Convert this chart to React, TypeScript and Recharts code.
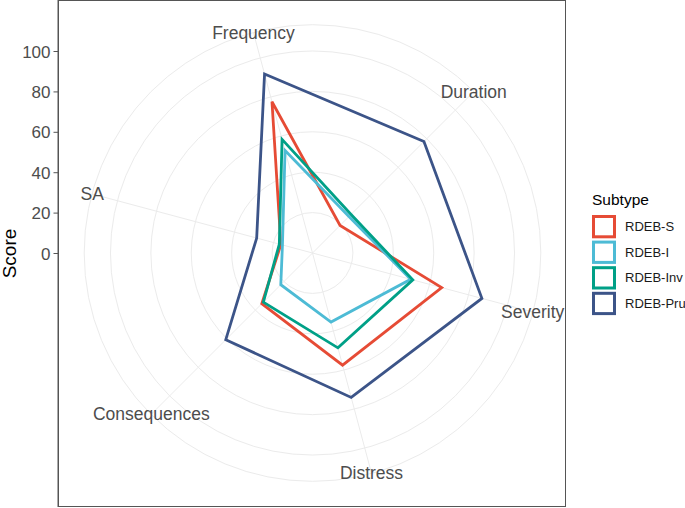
import React from 'react';
import { RadarChart, Radar, PolarGrid, PolarAngleAxis, PolarRadiusAxis, Legend, LineChart, YAxis } from 'recharts';

// categories go clockwise, Frequency first
const categories = ['Frequency', 'Duration', 'Severity', 'Distress', 'Consequences', 'SA'];
const subtypes = ['RDEB-S', 'RDEB-I', 'RDEB-Inv', 'RDEB-Pru'];
const colors = ['#E64B35', '#4DBBD5', '#00A087', '#3C5488'];

const rdebS = [77.5, 19.3, 66.2, 57.5, 35.5, 16.2];
const rdebI = [52.5, 25.5, 50.3, 35.4, 22.2, 15.4];
const rdebInv = [58.2, 27, 51.4, 48.6, 34.4, 17];
const rdebPru = [91.7, 78, 86.8, 74, 60.7, 28.6];

const scoreTicks = [0, 20, 40, 60, 80, 100];
const gridValues = [20, 40, 60, 80, 100];
const radiusMax = 113;

const series = [rdebS, rdebI, rdebInv, rdebPru];
const data = categories.map((category, i) => {
  const row: Record<string, string | number> = { category };
  subtypes.forEach((s, k) => { row[s] = series[k][i]; });
  return row;
});
const axisData = scoreTicks.map((score) => ({ score }));

const W = 685;
const H = 508;
const CX = 312.5;
const CY = 253;
const OUTER = 228.3;
const FONT = '"Liberation Sans", Arial, sans-serif';

const AngleTick = (props: any) => {
  const { payload } = props;
  const a = (-payload.coordinate * Math.PI) / 180;
  const r = 228;
  return (
    <text
      x={CX + Math.cos(a) * r}
      y={CY + Math.sin(a) * r}
      textAnchor="middle"
      dominantBaseline="central"
      fontSize={17.5}
      fontFamily={FONT}
      fill="#4D4D4D"
    >
      {payload.value}
    </text>
  );
};

const LegendBox = (props: any) => {
  const items = [...(props.payload || [])].sort(
    (a: any, b: any) => subtypes.indexOf(a.value) - subtypes.indexOf(b.value)
  );
  return (
    <svg width={100} height={140} style={{ display: 'block' }}>
      <text x={7} y={20} fontSize={15.5} fontFamily={FONT} fill="#000">Subtype</text>
      {items.map((it: any, i: number) => (
        <g key={it.value}>
          <rect x={8.5} y={31.5 + i * 25.6} width={21} height={20.3} fill="#fff" stroke={it.color} strokeWidth={3} />
          <text x={40} y={41.7 + i * 25.6} dominantBaseline="central" fontSize={13} fontFamily={FONT} fill="#1A1A1A">
            {it.value}
          </text>
        </g>
      ))}
    </svg>
  );
};

const ScoreLabel = (props: any) => {
  const vb = props.viewBox || { x: 0, y: 0, height: H };
  const y = vb.y + vb.height / 2;
  const x = 16;
  return (
    <text x={x} y={y} transform={`rotate(-90 ${x} ${y})`} textAnchor="middle" fontSize={19} fontFamily={FONT} fill="#000">
      Score
    </text>
  );
};

export default function App() {
  return (
    <div style={{ position: 'absolute', left: 0, top: 0, width: W, height: H, background: '#fff' }}>
      <div style={{ position: 'absolute', left: 0, top: 0 }}>
        <LineChart width={W} height={H} data={axisData} margin={{ top: 0, right: 0, bottom: 1, left: 0 }}>
          <YAxis
            dataKey="score"
            type="number"
            width={58}
            domain={[-125.5, 125.5]}
            ticks={scoreTicks}
            allowDataOverflow
            interval={0}
            tickSize={4.5}
            tickMargin={3}
            stroke="#555"
            tick={{ fontSize: 17, fontFamily: FONT, fill: '#4D4D4D' }}
            label={{ content: ScoreLabel }}
          />
        </LineChart>
      </div>
      {/* panel border */}
      <div style={{ position: 'absolute', left: 58, top: 0, width: 508, height: 507, border: '1px solid #555', boxSizing: 'border-box' }} />
      <div style={{ position: 'absolute', left: 0, top: 0 }}>
        <RadarChart
          width={W}
          height={H}
          data={data}
          cx={CX}
          cy={CY}
          outerRadius={OUTER}
          startAngle={105}
          endAngle={-255}
          margin={{ top: 0, right: 0, bottom: 0, left: 0 }}
        >
          <PolarGrid
            gridType="circle"
            radialLines={false}
            stroke="#EBEBEB"
            strokeWidth={1}
            polarRadius={gridValues.map((v) => (v / radiusMax) * OUTER)}
          />
          <PolarGrid gridType="circle" polarRadius={[]} outerRadius={208} stroke="#EBEBEB" strokeWidth={1} />
          <PolarAngleAxis
            dataKey="category"
            axisLineType="circle"
            stroke="#EBEBEB"
            tickLine={false}
            tick={AngleTick}
          />
          <PolarRadiusAxis domain={[0, radiusMax]} tick={false} axisLine={false} />
          {subtypes.map((s, k) => (
            <Radar
              key={s}
              name={s}
              dataKey={s}
              stroke={colors[k]}
              strokeWidth={2.8}
              fill="none"
              fillOpacity={0}
              dot={false}
              isAnimationActive={false}
            />
          ))}
          <Legend
            layout="vertical"
            content={LegendBox}
            wrapperStyle={{ position: 'absolute', left: 585, top: 185, width: 100, height: 140 }}
          />
        </RadarChart>
      </div>
    </div>
  );
}
